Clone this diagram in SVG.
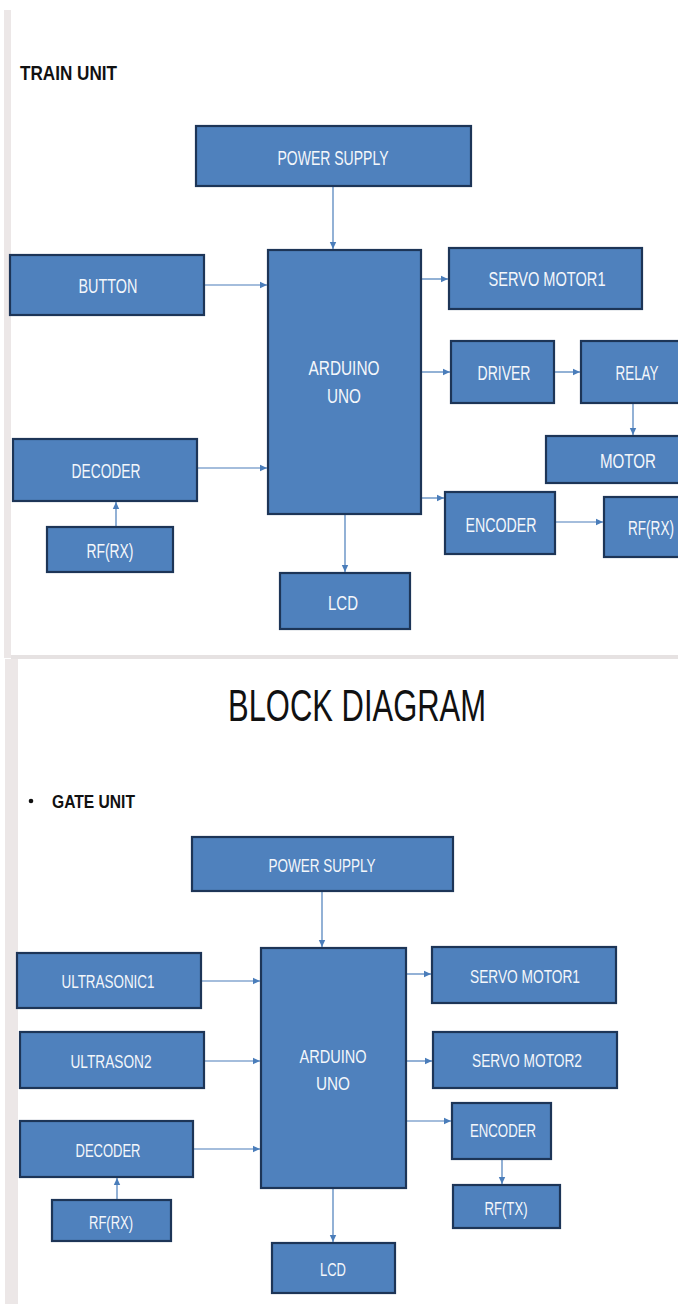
<svg xmlns="http://www.w3.org/2000/svg" width="678" height="1304" viewBox="0 0 678 1304">
<style>
.box{fill:#4f81bd;stroke:#1d3557;stroke-width:2.2}
.lbl{font-family:"Liberation Sans",Arial,sans-serif;fill:#f4f7fb;text-anchor:middle;font-size:20.5px}
.lb2{font-family:"Liberation Sans",Arial,sans-serif;fill:#f4f7fb;text-anchor:middle;font-size:19px}
.ttl{font-family:"Liberation Sans",Arial,sans-serif;fill:#111;font-weight:bold}
.con{stroke:#4a7dba;stroke-width:1.2;fill:none;marker-end:url(#ah)}
</style>
<defs>
<marker id="ah" markerUnits="userSpaceOnUse" markerWidth="8" markerHeight="8" refX="7" refY="4" orient="auto">
<path d="M0,0.8 L7,4 L0,7.2 Z" fill="#4a7dba"/>
</marker>
</defs>
<rect x="0" y="0" width="678" height="1304" fill="#ffffff"/>
<rect x="4" y="10" width="7" height="648" fill="#ece7e7"/>
<rect x="11" y="655" width="667" height="4" fill="#e6e2e2"/>
<rect x="5" y="659" width="13" height="645" fill="#ece7e7"/>

<text class="ttl" x="20" y="80" font-size="21" textLength="97" lengthAdjust="spacingAndGlyphs">TRAIN UNIT</text>
<text x="357" y="721" font-family="Liberation Sans,Arial,sans-serif" font-size="45" fill="#111" text-anchor="middle" textLength="258" lengthAdjust="spacingAndGlyphs">BLOCK DIAGRAM</text>
<circle cx="31" cy="801" r="2.3" fill="#111"/>
<text class="ttl" x="52" y="808" font-size="19" textLength="83" lengthAdjust="spacingAndGlyphs">GATE UNIT</text>

<g id="connectors">
<line class="con" x1="333" y1="186" x2="333" y2="249"/>
<line class="con" x1="204" y1="285" x2="267" y2="285"/>
<line class="con" x1="197" y1="468" x2="267" y2="468"/>
<line class="con" x1="116" y1="527" x2="116" y2="502"/>
<line class="con" x1="345" y1="514" x2="345" y2="572"/>
<line class="con" x1="421" y1="279" x2="448" y2="279"/>
<line class="con" x1="421" y1="372" x2="450" y2="372"/>
<line class="con" x1="554" y1="372" x2="580" y2="372"/>
<line class="con" x1="633" y1="403" x2="633" y2="435"/>
<line class="con" x1="421" y1="498" x2="444" y2="498"/>
<line class="con" x1="555" y1="522" x2="603" y2="522"/>

<line class="con" x1="322" y1="891" x2="322" y2="947"/>
<line class="con" x1="201" y1="981" x2="260" y2="981"/>
<line class="con" x1="204" y1="1061" x2="260" y2="1061"/>
<line class="con" x1="193" y1="1149" x2="260" y2="1149"/>
<line class="con" x1="117" y1="1200" x2="117" y2="1178"/>
<line class="con" x1="333" y1="1188" x2="333" y2="1242"/>
<line class="con" x1="406" y1="974" x2="431" y2="974"/>
<line class="con" x1="406" y1="1061" x2="432" y2="1061"/>
<line class="con" x1="406" y1="1121" x2="451" y2="1121"/>
<line class="con" x1="502" y1="1159" x2="502" y2="1184"/>
</g>

<g id="t-power"><rect class="box" x="196" y="126" width="275" height="60"/><text class="lbl" x="333" y="165" textLength="111" lengthAdjust="spacingAndGlyphs">POWER SUPPLY</text></g>
<g id="t-arduino"><rect class="box" x="268" y="250" width="153" height="264"/><text class="lbl" x="344" y="375" textLength="71" lengthAdjust="spacingAndGlyphs">ARDUINO</text><text class="lbl" x="344" y="403" textLength="34" lengthAdjust="spacingAndGlyphs">UNO</text></g>
<g id="t-button"><rect class="box" x="10" y="255" width="194" height="60"/><text class="lbl" x="108" y="293" textLength="59" lengthAdjust="spacingAndGlyphs">BUTTON</text></g>
<g id="t-servo1"><rect class="box" x="449" y="248" width="193" height="61"/><text class="lbl" x="547" y="286" textLength="117" lengthAdjust="spacingAndGlyphs">SERVO MOTOR1</text></g>
<g id="t-driver"><rect class="box" x="451" y="341" width="103" height="62"/><text class="lbl" x="504" y="380" textLength="53" lengthAdjust="spacingAndGlyphs">DRIVER</text></g>
<g id="t-relay"><rect class="box" x="581" y="341" width="110" height="62"/><text class="lbl" x="637" y="380" textLength="43" lengthAdjust="spacingAndGlyphs">RELAY</text></g>
<g id="t-motor"><rect class="box" x="546" y="436" width="145" height="47"/><text class="lbl" x="628" y="468" textLength="56" lengthAdjust="spacingAndGlyphs">MOTOR</text></g>
<g id="t-encoder"><rect class="box" x="445" y="492" width="110" height="62"/><text class="lbl" x="501" y="532" textLength="71" lengthAdjust="spacingAndGlyphs">ENCODER</text></g>
<g id="t-rfrx2"><rect class="box" x="604" y="497" width="90" height="60"/><text class="lbl" x="651" y="535" textLength="46" lengthAdjust="spacingAndGlyphs">RF(RX)</text></g>
<g id="t-decoder"><rect class="box" x="13" y="439" width="184" height="62"/><text class="lbl" x="106" y="478" textLength="69" lengthAdjust="spacingAndGlyphs">DECODER</text></g>
<g id="t-rfrx"><rect class="box" x="47" y="527" width="126" height="45"/><text class="lbl" x="110" y="558" textLength="47" lengthAdjust="spacingAndGlyphs">RF(RX)</text></g>
<g id="t-lcd"><rect class="box" x="280" y="573" width="130" height="56"/><text class="lbl" x="343" y="610" textLength="30" lengthAdjust="spacingAndGlyphs">LCD</text></g>

<g id="g-power"><rect class="box" x="192" y="837" width="261" height="54"/><text class="lb2" x="322" y="872" textLength="107" lengthAdjust="spacingAndGlyphs">POWER SUPPLY</text></g>
<g id="g-arduino"><rect class="box" x="261" y="948" width="145" height="240"/><text class="lb2" x="333" y="1063" textLength="67" lengthAdjust="spacingAndGlyphs">ARDUINO</text><text class="lb2" x="333" y="1090" textLength="34" lengthAdjust="spacingAndGlyphs">UNO</text></g>
<g id="g-ultra1"><rect class="box" x="17" y="953" width="184" height="55"/><text class="lb2" x="108" y="988" textLength="93" lengthAdjust="spacingAndGlyphs">ULTRASONIC1</text></g>
<g id="g-ultra2"><rect class="box" x="20" y="1032" width="184" height="56"/><text class="lb2" x="111" y="1068" textLength="81" lengthAdjust="spacingAndGlyphs">ULTRASON2</text></g>
<g id="g-decoder"><rect class="box" x="20" y="1121" width="173" height="56"/><text class="lb2" x="108" y="1157" textLength="65" lengthAdjust="spacingAndGlyphs">DECODER</text></g>
<g id="g-rfrx"><rect class="box" x="52" y="1200" width="119" height="41"/><text class="lb2" x="111" y="1229" textLength="44" lengthAdjust="spacingAndGlyphs">RF(RX)</text></g>
<g id="g-lcd"><rect class="box" x="272" y="1243" width="123" height="50"/><text class="lb2" x="333" y="1276" textLength="26" lengthAdjust="spacingAndGlyphs">LCD</text></g>
<g id="g-servo1"><rect class="box" x="432" y="947" width="184" height="56"/><text class="lb2" x="525" y="983" textLength="110" lengthAdjust="spacingAndGlyphs">SERVO MOTOR1</text></g>
<g id="g-servo2"><rect class="box" x="433" y="1032" width="184" height="56"/><text class="lb2" x="527" y="1067" textLength="110" lengthAdjust="spacingAndGlyphs">SERVO MOTOR2</text></g>
<g id="g-encoder"><rect class="box" x="452" y="1103" width="99" height="56"/><text class="lb2" x="503" y="1137" textLength="66" lengthAdjust="spacingAndGlyphs">ENCODER</text></g>
<g id="g-rftx"><rect class="box" x="453" y="1185" width="107" height="43"/><text class="lb2" x="506" y="1215" textLength="43" lengthAdjust="spacingAndGlyphs">RF(TX)</text></g>
</svg>
